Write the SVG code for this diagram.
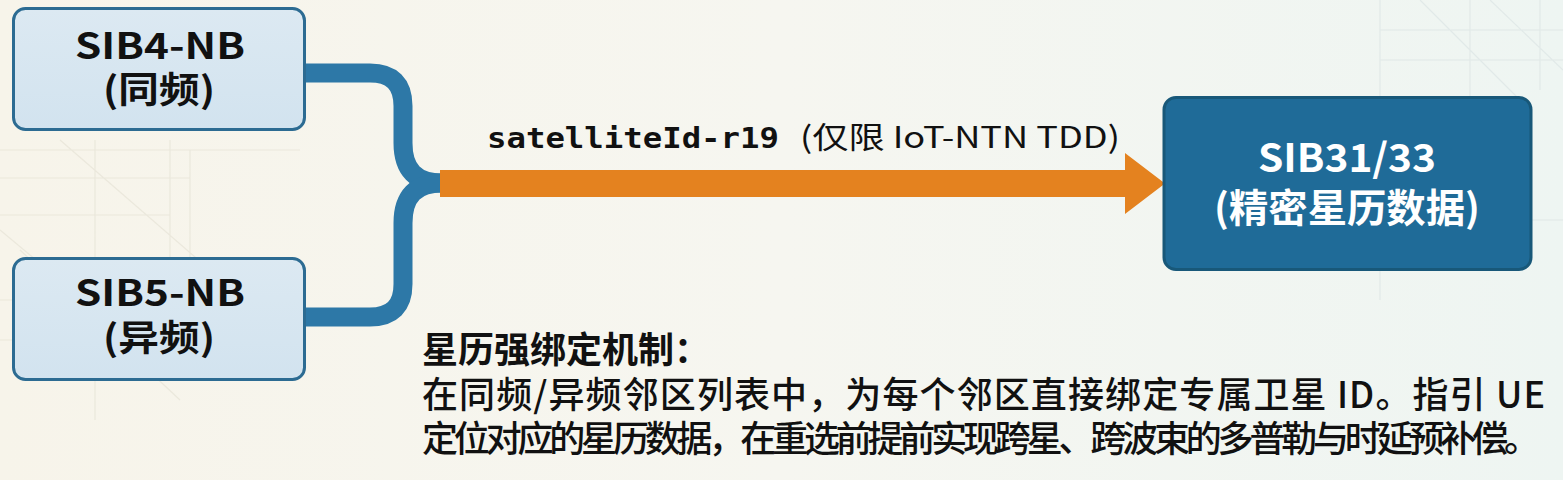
<svg xmlns="http://www.w3.org/2000/svg" width="1563" height="480" viewBox="0 0 1563 480">
<defs>
<linearGradient id="bg" x1="0" y1="0" x2="1" y2="0">
<stop offset="0" stop-color="#f7f4ea"/>
<stop offset="0.5" stop-color="#f6f6f0"/>
<stop offset="1" stop-color="#eef5f2"/>
</linearGradient>
<linearGradient id="lightBox" x1="0" y1="0" x2="0" y2="1">
<stop offset="0" stop-color="#dce9f2"/>
<stop offset="1" stop-color="#d2e3ef"/>
</linearGradient>
<style>
.lbox{fill:url(#lightBox);stroke:#2c6b92;stroke-width:3}
.dbox{fill:#1f6b98;stroke:#185879;stroke-width:3}
.t{font-family:"Noto Sans CJK SC","Noto Sans",sans-serif;font-weight:700;text-anchor:middle}
.dark{fill:#111}
.white{fill:#ffffff}
.brace{fill:none;stroke:#2d78a7;stroke-width:19;stroke-linecap:butt;stroke-linejoin:round}
.deco{stroke:#e6e2d5;stroke-width:1.2;fill:none}
.decob{stroke:#dbe4e4;stroke-width:1.2;fill:none}
.body{font-family:"Noto Sans CJK SC","Noto Sans",sans-serif;font-size:36px;font-weight:500;fill:#111}
.head{font-family:"Noto Sans CJK SC","Noto Sans",sans-serif;font-size:36px;font-weight:700;fill:#111}
</style>
</defs>
<rect width="1563" height="480" fill="url(#bg)"/>
<g id="decor" opacity="0.7">
<path class="deco" d="M0,150 H300 M0,178 H190 M0,215 H170 M0,300 H250 M0,340 H170 M95,140 V420 M170,140 V380 M190,150 V300 M0,230 L120,330 M20,250 L180,400 M60,140 L210,270"/>
<path class="decob" d="M1380,0 V110 M1470,0 V120 M1540,0 V90 M1380,30 H1563 M1380,60 H1563 M1420,0 L1520,100 M1490,0 L1563,70 M1380,240 V300 M1440,220 H1563"/>
</g>
<g id="connectors">
<path class="brace" d="M304,73 H370 Q403,73 403,106 V143 C403,170 416,183 442,183"/>
<path class="brace" d="M304,317 H370 Q403,317 403,284 V223 C403,196 416,183 442,183"/>
<polygon points="440,170 1125,170 1125,153 1165,183.5 1125,214 1125,197 440,197" fill="#e4821f"/>
<text x="487" y="148" font-family="'DejaVu Sans Mono','Liberation Mono',monospace" font-weight="700" font-size="28" fill="#111" textLength="292" lengthAdjust="spacingAndGlyphs">satelliteId-r19</text>
<text x="800" y="148" font-family="'Noto Sans CJK SC','Noto Sans',sans-serif" font-size="30" fill="#111" textLength="320" lengthAdjust="spacingAndGlyphs">(仅限 IoT-NTN TDD)</text>
</g>
<g id="sib4">
<rect class="lbox" x="13.5" y="8.5" width="291" height="121" rx="12"/>
<text class="t dark" x="160" y="59" font-size="36" textLength="170" lengthAdjust="spacingAndGlyphs">SIB4-NB</text>
<text class="t dark" x="159" y="103" font-size="36" textLength="112" lengthAdjust="spacingAndGlyphs">(同频)</text>
</g>
<g id="sib5">
<rect class="lbox" x="13.5" y="258.5" width="291" height="121" rx="12"/>
<text class="t dark" x="160" y="306" font-size="36" textLength="170" lengthAdjust="spacingAndGlyphs">SIB5-NB</text>
<text class="t dark" x="159" y="351" font-size="36" textLength="112" lengthAdjust="spacingAndGlyphs">(异频)</text>
</g>
<g id="sib31">
<rect class="dbox" x="1164" y="97.5" width="367" height="172" rx="12"/>
<text class="t white" x="1347" y="172" font-size="39" textLength="178" lengthAdjust="spacingAndGlyphs">SIB31/33</text>
<text class="t white" x="1347" y="222" font-size="39" textLength="266" lengthAdjust="spacingAndGlyphs">(精密星历数据)</text>
</g>
<g id="note">
<text class="head" x="422" y="363">星历强绑定机制：</text>
<text class="body" x="422" y="408" textLength="1123" lengthAdjust="spacing">在同频/异频邻区列表中，为每个邻区直接绑定专属卫星 ID。指引 UE</text>
<text class="body" x="422" y="452" textLength="1118" lengthAdjust="spacing">定位对应的星历数据，在重选前提前实现跨星、跨波束的多普勒与时延预补偿。</text>
</g>
</svg>
